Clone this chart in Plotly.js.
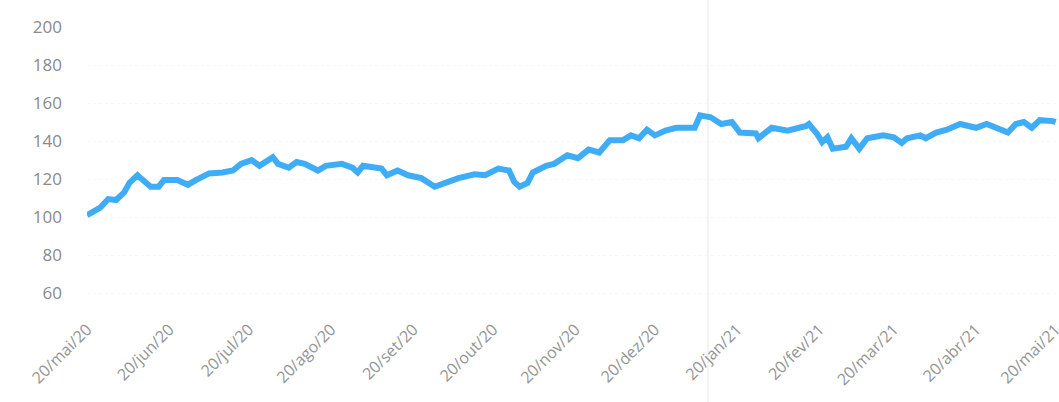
<!DOCTYPE html>
<html>
<head>
<meta charset="utf-8">
<script src="https://cdn.plot.ly/plotly-3.0.1.min.js"></script>
<style>html,body{margin:0;padding:0;background:#fff;overflow:hidden;}#chart{width:1059px;height:402px;}</style>
</head>
<body>
<div id="chart"></div>
<script>
const dates = [
'2020-05-20','2020-05-25','2020-05-28','2020-05-31','2020-06-03','2020-06-05','2020-06-08','2020-06-11','2020-06-13','2020-06-16',
'2020-06-18','2020-06-23','2020-06-27','2020-06-30','2020-07-05','2020-07-10','2020-07-14','2020-07-17','2020-07-21','2020-07-24',
'2020-07-29','2020-07-31','2020-08-04','2020-08-07','2020-08-10','2020-08-15','2020-08-18','2020-08-24','2020-08-28','2020-08-30',
'2020-09-01','2020-09-08','2020-09-10','2020-09-14','2020-09-18','2020-09-23','2020-09-28','2020-10-02','2020-10-07','2020-10-13',
'2020-10-17','2020-10-22','2020-10-26','2020-10-28','2020-10-30','2020-11-02','2020-11-04','2020-11-09','2020-11-12','2020-11-17',
'2020-11-21','2020-11-25','2020-11-29','2020-12-03','2020-12-08','2020-12-11','2020-12-14','2020-12-17','2020-12-20','2020-12-24',
'2020-12-28','2021-01-04','2021-01-06','2021-01-10','2021-01-14','2021-01-18','2021-01-21','2021-01-27','2021-01-28','2021-02-02',
'2021-02-08','2021-02-15','2021-02-16','2021-02-19','2021-02-21','2021-02-23','2021-02-25','2021-03-02','2021-03-04','2021-03-07',
'2021-03-10','2021-03-16','2021-03-20','2021-03-23','2021-03-25','2021-03-30','2021-04-01','2021-04-05','2021-04-09','2021-04-14',
'2021-04-20','2021-04-24','2021-04-28','2021-05-02','2021-05-05','2021-05-08','2021-05-11','2021-05-14','2021-05-19','2021-05-20'
];
const values = [
101,105,109.5,109,113,118,122,118,116,116,
119.5,119.5,117,119.5,123,123.5,124.5,128,130,127,
131.5,128,126,129,128,124.5,127,128,126,123.5,
127,125.5,122,124.5,122,120.5,116,118,120.5,122.5,
122,125.5,124.5,118.5,116,118,123.5,127,128,132.5,
131,135.5,134,140.5,140.5,143,141.5,146,143,145.5,
147,147,153.5,152.5,149,150,144.5,144,141.5,147,
145.5,148,149,144,139.5,142,136,137,141.5,136,
141.5,143,142,139,141.5,143,141.5,144.5,146,149,
147,149,146.5,144.5,149,150,147,151,150.5,150
];
const tickDates = ['2020-05-20','2020-06-20','2020-07-20','2020-08-20','2020-09-20','2020-10-20','2020-11-20','2020-12-20','2021-01-20','2021-02-20','2021-03-20','2021-04-20','2021-05-20'];
const tickLabels = ['20/mai/20','20/jun/20','20/jul/20','20/ago/20','20/set/20','20/out/20','20/nov/20','20/dez/20','20/jan/21','20/fev/21','20/mar/21','20/abr/21','20/mai/21'];
const yTicks = [60,80,100,120,140,160,180,200];
const markerDate = '2021-01-09';

const trace = {
  x: dates, y: values, type: 'scatter', mode: 'lines',
  line: {color: '#3fadf6', width: 6, shape: 'linear'},
  hoverinfo: 'skip'
};
const layout = {
  width: 1059, height: 402,
  margin: {l: 87, r: 2, t: 27, b: 86},
  paper_bgcolor: '#fff', plot_bgcolor: '#fff',
  showlegend: false,
  font: {family: 'Open Sans, sans-serif', color: '#8a8a8a'},
  xaxis: {
    type: 'date', range: ['2020-05-20', '2021-05-20 12:00'],
    tickmode: 'array', tickvals: tickDates, ticktext: tickLabels,
    tickangle: -45, tickfont: {size: 16, color: '#949494'},
    showgrid: false, zeroline: false, showline: false, ticks: '',
    automargin: false, ticklabeloverflow: 'allow'
  },
  yaxis: {
    range: [48, 200], tickmode: 'array', tickvals: yTicks,
    tickfont: {size: 17, color: '#8a8a8a'},
    showgrid: true, gridcolor: '#f7f7f7', griddash: 'dot', gridwidth: 1,
    zeroline: false, showline: false, ticks: '', ticklabelstandoff: 24,
    automargin: false
  },
  shapes: [{type: 'line', xref: 'x', yref: 'paper', x0: markerDate, x1: markerDate, y0: -0.3, y1: 1.1,
    line: {color: '#f3f3f3', width: 2}, layer: 'below'}]
};
Plotly.newPlot('chart', [trace], layout, {displayModeBar: false, staticPlot: true});
</script>
</body>
</html>
